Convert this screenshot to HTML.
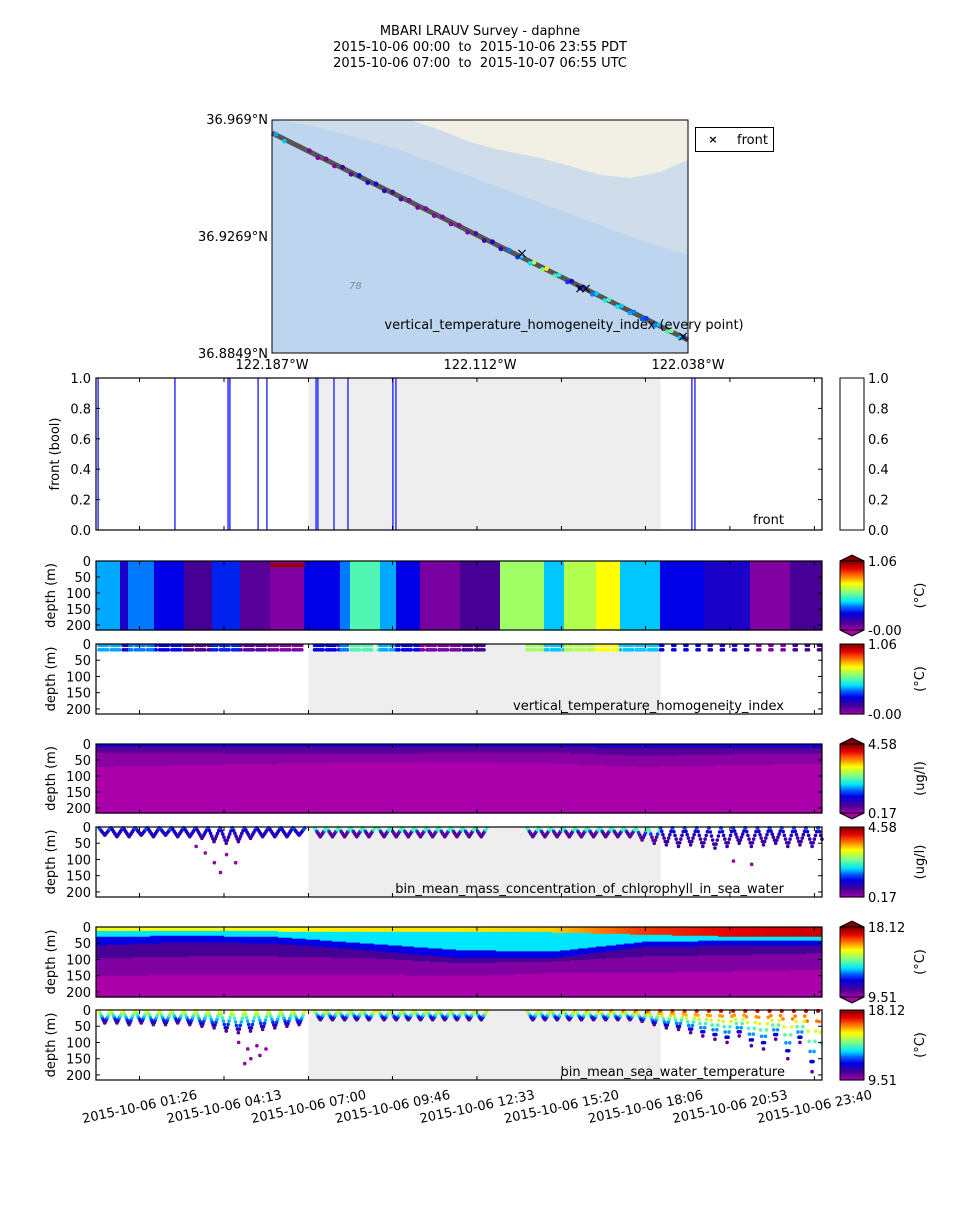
<!DOCTYPE html>
<html><head><meta charset="utf-8"><style>
html,body{margin:0;padding:0;background:#fff;}
svg text{font-family:"DejaVu Sans","Liberation Sans",sans-serif;font-size:13px;fill:#000;white-space:pre;}
</style></head><body>
<svg id="fig" width="960" height="1200" viewBox="0 0 960 1200" xmlns="http://www.w3.org/2000/svg" xml:space="preserve">
<rect width="960" height="1200" fill="#fff"/>
<g>
<text x="480" y="35" text-anchor="middle">MBARI LRAUV Survey - daphne</text>
<text x="480" y="51" text-anchor="middle">2015-10-06 00:00  to  2015-10-06 23:55 PDT</text>
<text x="480" y="67" text-anchor="middle">2015-10-06 07:00  to  2015-10-07 06:55 UTC</text>
</g>
<g>
<rect x="272" y="120" width="416" height="233" fill="#bdd5ef"/>
<polygon points="272,120 688,120 688,255 640,240 600,225 560,210 520,195 480,180 440,165 400,150 360,138 320,128 290,122" fill="#cfdcea"/>
<polygon points="410,120 688,120 688,160 660,172 630,178 600,175 570,166 540,158 500,150 470,142 440,130" fill="#f2efe4"/>
<line x1="272" y1="133" x2="688" y2="340" stroke="#555" stroke-width="5"/>
<text x="349" y="289" style="font-size:10px;fill:#889;font-style:italic">78</text>
<g id="mapdots"></g>
<text x="564" y="329" text-anchor="middle">vertical_temperature_homogeneity_index (every point)</text>
<rect x="272" y="120" width="416" height="233" fill="none" stroke="#000" stroke-width="1"/>
<text x="268" y="124" text-anchor="end">36.969°N</text>
<text x="268" y="241" text-anchor="end">36.9269°N</text>
<text x="268" y="358" text-anchor="end">36.8849°N</text>
<text x="272" y="369" text-anchor="middle">122.187°W</text>
<text x="480" y="369" text-anchor="middle">122.112°W</text>
<text x="688" y="369" text-anchor="middle">122.038°W</text>
<g>
<rect x="695.5" y="127.5" width="78" height="24" fill="#fff" stroke="#000"/>
<text x="713" y="143" text-anchor="middle" style="font-size:11px;font-weight:bold">×</text>
<text x="737" y="144">front</text>
</g>
</g>
<g id="panels"></g>
</svg>
<script>
// ---------- data ----------
const xTickHours=[1.4333,4.2167,7.0,9.7667,12.55,15.3333,18.1,20.8833,23.6667];
const xTickLabels=["2015-10-06 01:26","2015-10-06 04:13","2015-10-06 07:00","2015-10-06 09:46","2015-10-06 12:33","2015-10-06 15:20","2015-10-06 18:06","2015-10-06 20:53","2015-10-06 23:40"];
const frontHours=[0.07,2.6,4.35,4.41,5.34,5.63,7.25,7.31,7.84,8.3,9.78,9.88,19.63,19.73];
const homogBandStart=[0,0.79,1.05,1.94,2.93,3.82,4.74,5.73,6.88,8.04,8.37,9.36,9.85,10.67,11.99,13.31,14.79,15.45,16.44,17.26,18.58,20.06,21.54,22.86];
const homogBandValue=[0.38,0.2,0.35,0.25,0.12,0.28,0.1,0.05,0.25,0.35,0.5,0.38,0.25,0.06,0.12,0.58,0.4,0.6,0.68,0.4,0.25,0.2,0.05,0.12];
const layerNodeHours=[0,3,6,9,12,15,18,21,24];
const tempTopValue=[0.68,0.68,0.68,0.7,0.7,0.72,0.85,0.9,0.93];
const tempBound1=[12,10,12,14,15,15,22,28,30];
const tempBound2=[30,25,30,50,70,75,45,40,40];
const tempBound3=[55,45,50,70,95,95,60,55,55];
const tempBound4=[95,90,90,95,110,105,90,85,80];
const tempBound5=[150,145,145,145,150,140,140,135,130];
const tempLayerValues=[0.42,0.25,0.12,0.05,0.0];
const chlBound1=[8,8,8,8,8,8,10,10,10];
const chlBound2=[25,25,30,30,25,25,35,30,30];
const chlBound3=[70,65,60,55,55,60,70,65,60];
const chlLayerValues=[0.22,0.1,0.04,0.0];
const profileHours=[0.1,0.5,0.9,1.3,1.7,2.1,2.5,2.9,3.3,3.7,4.1,4.5,4.9,5.3,5.7,6.1,6.5,7.2,7.6,8.0,8.4,8.8,9.3,9.7,10.1,10.5,10.9,11.3,11.7,12.1,12.5,14.2,14.6,15.0,15.4,15.8,16.2,16.6,17.0,17.4,17.8,18.2,18.6,19.0,19.4,19.8,20.2,20.6,21.0,21.4,21.8,22.2,22.6,23.0,23.4,23.8];
const tempProfileMaxDepth=[40,40,45,40,45,45,40,45,50,55,65,70,65,60,55,50,45,30,30,30,30,30,30,30,30,30,30,30,30,30,30,30,30,30,30,30,30,30,30,30,35,45,55,60,70,80,90,100,80,110,120,90,150,100,190,200];
const chlProfileMaxDepth=[25,30,30,25,30,25,30,30,35,45,50,45,35,30,30,30,25,30,30,30,30,30,30,30,30,30,30,30,30,30,30,30,30,30,30,30,30,30,30,30,40,50,55,60,55,60,65,60,50,60,55,50,60,55,60,60];
const tempOutliers=[[5.0,120],[5.1,150],[5.3,110],[5.4,140],[4.9,165],[5.6,120],[4.7,100]];
const chlOutliers=[[3.3,60],[3.6,80],[3.9,110],[4.1,140],[4.3,85],[4.6,110],[21.0,105],[21.6,115]];
const mapDotFrac=[0.01,0.03,0.09,0.11,0.13,0.15,0.17,0.19,0.21,0.23,0.25,0.27,0.29,0.31,0.33,0.35,0.37,0.39,0.41,0.43,0.45,0.47,0.49,0.51,0.53,0.55,0.57,0.59,0.6,0.62,0.63,0.65,0.66,0.68,0.69,0.71,0.72,0.74,0.75,0.77,0.78,0.8,0.81,0.83,0.84,0.86,0.87,0.89,0.9,0.92,0.93,0.95,0.96,0.98,0.99];
const mapDotValue=[0.38,0.4,0.05,0.06,0.05,0.04,0.12,0.1,0.25,0.22,0.2,0.18,0.12,0.1,0.05,0.06,0.05,0.04,0.05,0.05,0.04,0.05,0.1,0.12,0.2,0.18,0.35,0.3,0.4,0.42,0.6,0.55,0.7,0.5,0.45,0.3,0.2,0.22,0.3,0.35,0.4,0.45,0.5,0.42,0.4,0.38,0.35,0.33,0.3,0.36,0.4,0.5,0.55,0.4,0.3];
const mapFronts=[[522,253],[580,288],[586,288],[683,336]];

// ---------- helpers ----------
const NS="http://www.w3.org/2000/svg";
const panels=document.getElementById('panels');
function mk(tag,attrs,parent){const e=document.createElementNS(NS,tag);for(const k in attrs)e.setAttribute(k,attrs[k]);(parent||panels).appendChild(e);return e;}
const X0=96,X1=822,HMAX=23.9167;
function xs(h){return X0+h*(X1-X0)/HMAX;}
const DMAX=215.6;
function cmap(v){
 const st=[[0,[170,0,170]],[0.12,[70,0,150]],[0.25,[0,0,230]],[0.33,[0,90,255]],[0.42,[0,230,255]],[0.55,[130,255,130]],[0.68,[255,255,0]],[0.8,[255,110,0]],[0.9,[230,0,0]],[1,[128,0,0]]];
 v=Math.max(0,Math.min(1,v));
 for(let i=1;i<st.length;i++){if(v<=st[i][0]){const a=st[i-1],b=st[i],t=(v-a[0])/(b[0]-a[0]);return 'rgb('+a[1].map((c,j)=>Math.round(c+(b[1][j]-c)*t)).join(',')+')';}}
 return 'rgb(128,0,0)';
}
function interp(arr,h){for(let i=1;i<layerNodeHours.length;i++){if(h<=layerNodeHours[i]){const t=(h-layerNodeHours[i-1])/(layerNodeHours[i]-layerNodeHours[i-1]);return arr[i-1]+(arr[i]-arr[i-1])*t;}}return arr[arr.length-1];}
function tempAt(h,d){const b=[interp(tempBound1,h),interp(tempBound2,h),interp(tempBound3,h),interp(tempBound4,h),interp(tempBound5,h)];if(d<b[0])return interp(tempTopValue,h);for(let i=1;i<b.length;i++)if(d<b[i])return tempLayerValues[i-1];return tempLayerValues[4];}
function chlAt(h,d){const b=[interp(chlBound1,h),interp(chlBound2,h),interp(chlBound3,h)];for(let i=0;i<3;i++)if(d<b[i])return chlLayerValues[i];return chlLayerValues[3];}
function homogAt(h){let v=homogBandValue[0];for(let i=0;i<homogBandStart.length;i++)if(h>=homogBandStart[i])v=homogBandValue[i];return v;}

// map dots
const md=document.getElementById('mapdots');
mapDotFrac.forEach((f,i)=>{const c=mk('circle',{cx:272+f*416,cy:133+f*207+(i%2?2:-1),r:2.3,fill:cmap(mapDotValue[i])},md);

});
mapFronts.forEach(p=>{const t=mk('text',{x:p[0],y:p[1]+5,'text-anchor':'middle',style:'font-size:14px'},md);t.textContent='×';

});

function xticks(top,bot){xTickHours.forEach(h=>{const x=xs(h);mk('line',{x1:x,x2:x,y1:bot,y2:bot-4,stroke:'#000'});mk('line',{x1:x,x2:x,y1:top,y2:top+4,stroke:'#000'});});}
function frame(top,bot,name){const r=mk('rect',{x:X0,y:top,width:X1-X0,height:bot-top,fill:'none',stroke:'#000','stroke-width':1.2});

}
function depthAxis(top,bot){const k=(bot-top)/DMAX;[0,50,100,150,200].forEach(d=>{const y=top+d*k;mk('line',{x1:X0,x2:X0+4,y1:y,y2:y,stroke:'#000'});mk('line',{x1:X1,x2:X1-4,y1:y,y2:y,stroke:'#000'});const t=mk('text',{x:91,y:y+5,'text-anchor':'end'});t.textContent=d;});
 const lab=mk('text',{x:0,y:0,'text-anchor':'middle',transform:'translate(55,'+((top+bot)/2)+') rotate(-90)'});lab.textContent='depth (m)';
 
 }
function shade(top,bot){mk('rect',{x:xs(7.0),y:top,width:xs(18.6)-xs(7.0),height:bot-top,fill:'#eeeeee'});}
function colorbar(top,bot,lo,hi,unit,ext,name){
 const g=mk('g',{});
 const n=60;for(let i=0;i<n;i++){mk('rect',{x:840,y:bot-(i+1)*(bot-top)/n,width:24,height:(bot-top)/n+0.6,fill:cmap((i+0.5)/n)},g);}
 if(ext){mk('polygon',{points:`840,${top} 852,${top-6} 864,${top}`,fill:cmap(1),stroke:'#000'},g);mk('polygon',{points:`840,${bot} 852,${bot+6} 864,${bot}`,fill:cmap(0),stroke:'#000'},g);}
 mk('rect',{x:840,y:top,width:24,height:bot-top,fill:'none',stroke:'#000'},g);
 let t=mk('text',{x:868,y:top+5},g);t.textContent=hi;t=mk('text',{x:868,y:bot+5},g);t.textContent=lo;
 t=mk('text',{x:0,y:0,'text-anchor':'middle',transform:'translate(924,'+((top+bot)/2)+') rotate(-90)'},g);t.textContent=unit;}

// ---------- front panel ----------
(function(){const top=378,bot=530;shade(top,bot);
 frontHours.forEach(h=>{const l=mk('line',{x1:xs(h),x2:xs(h),y1:top,y2:bot,stroke:'#3333ff','stroke-width':1.5});
 
 });
 frame(top,bot,'front-panel');xticks(top,bot);
 [0,0.2,0.4,0.6,0.8,1.0].forEach(v=>{const y=bot-v*(bot-top);mk('line',{x1:X0,x2:X0+4,y1:y,y2:y,stroke:'#000'});mk('line',{x1:X1,x2:X1-4,y1:y,y2:y,stroke:'#000'});let t=mk('text',{x:91,y:y+5,'text-anchor':'end'});t.textContent=v.toFixed(1);
 mk('line',{x1:864,x2:860,y1:y,y2:y,stroke:'#000'});t=mk('text',{x:868,y:y+5});t.textContent=v.toFixed(1);});
 mk('rect',{x:840,y:top,width:24,height:bot-top,fill:'#fff',stroke:'#000'});
 const lab=mk('text',{x:0,y:0,'text-anchor':'middle',transform:'translate(59,'+((top+bot)/2)+') rotate(-90)'});lab.textContent='front (bool)';
 const t=mk('text',{x:753,y:524});t.textContent='front';})();

// ---------- contour panels ----------
function contour(top,bot,fn,name){const k=(bot-top)/DMAX;const g=mk('g',{});
 for(let x=X0;x<X1;x+=2){const h=(x+1-X0)*HMAX/(X1-X0);let d0=0,v0=fn(h,0);for(let d=3;d<=DMAX+3;d+=3){const v=d<=DMAX?fn(h,d):-1;if(v!==v0){mk('rect',{x:x,y:top+d0*k,width:2.3,height:(d-d0)*k+0.5,fill:cmap(v0)},g);d0=d;v0=v;}}}}
function dot(h,y,v,name){if(h>HMAX)return;const c=mk('circle',{cx:xs(h),cy:y,r:1.8,fill:cmap(v)});
 
 }
// yo-yo (down then up) sample positions for a profile
function yoyo(n){const out=[];for(let j=0;j<=2*n;j++){out.push([j/(2*n),j<=n?j/n:2-j/n]);}return out;}
// homogeneity contour
(function(){const top=561,bot=630;contour(top,bot,(h,d)=>homogAt(h),'homogeneity-contour');
 mk('rect',{x:xs(5.73),y:top+2,width:xs(6.88)-xs(5.73),height:4,fill:cmap(0.98)});
 frame(top,bot,'homogeneity-contour-panel');xticks(top,bot);depthAxis(top,bot);colorbar(top,bot,'-0.00','1.06','(°C)',true,'homogeneity-colorbar');})();
// homogeneity scatter
(function(){const top=644,bot=714,k=(bot-top)/DMAX;shade(top,bot);
 profileHours.forEach(h=>{const dense=h<18.6;for(let j=0;j<(dense?5:2);j++){const hh=h+j*0.07;[4,18].forEach(d=>dot(hh,top+d*k,homogAt(hh),'homogeneity-point'));}});
 frame(top,bot,'homogeneity-scatter-panel');xticks(top,bot);depthAxis(top,bot);colorbar(top,bot,'-0.00','1.06','(°C)',false,'homogeneity-scatter-colorbar');
 const t=mk('text',{x:784,y:710,'text-anchor':'end'});t.textContent='vertical_temperature_homogeneity_index';})();
// chl contour
(function(){const top=744,bot=813;contour(top,bot,chlAt,'chlorophyll-contour');
 frame(top,bot,'chlorophyll-contour-panel');xticks(top,bot);depthAxis(top,bot);colorbar(top,bot,'0.17','4.58','(ug/l)',true,'chlorophyll-colorbar');})();
// chl scatter
(function(){const top=827,bot=897,k=(bot-top)/DMAX;shade(top,bot);
 profileHours.forEach((h,i)=>{const mdp=chlProfileMaxDepth[i];yoyo(5).forEach(p=>{const f=p[1];const d=3+(mdp-3)*f;const hh=h+0.38*p[0];const day=h>7&&h<18.6;const v=day?(f<0.3?0.5:(f<0.6?0.3:0.1)):chlAt(hh,d)+0.1;dot(hh,top+d*k,v,'chlorophyll-point');});});
 chlOutliers.forEach(p=>dot(p[0],top+p[1]*k,0.02,'chlorophyll-point'));
 frame(top,bot,'chlorophyll-scatter-panel');xticks(top,bot);depthAxis(top,bot);colorbar(top,bot,'0.17','4.58','(ug/l)',false,'chlorophyll-scatter-colorbar');
 const t=mk('text',{x:784,y:893,'text-anchor':'end'});t.textContent='bin_mean_mass_concentration_of_chlorophyll_in_sea_water';})();
// temp contour
(function(){const top=927,bot=997;contour(top,bot,tempAt,'temperature-contour');
 frame(top,bot,'temperature-contour-panel');xticks(top,bot);depthAxis(top,bot);colorbar(top,bot,'9.51','18.12','(°C)',true,'temperature-colorbar');})();
// temp scatter
(function(){const top=1010,bot=1080,k=(bot-top)/DMAX;shade(top,bot);
 profileHours.forEach((h,i)=>{const mdp=tempProfileMaxDepth[i];yoyo(6).forEach(p=>{const f=p[1];const d=3+(mdp-3)*f;const hh=h+0.38*p[0];const v=interp(tempTopValue,hh)*(1-f)+0.1*f;dot(hh,top+d*k,v,'temperature-point');});});
 tempOutliers.forEach(p=>dot(p[0],top+p[1]*k,0.03,'temperature-point'));
 frame(top,bot,'temperature-scatter-panel');xticks(top,bot);depthAxis(top,bot);colorbar(top,bot,'9.51','18.12','(°C)',false,'temperature-scatter-colorbar');
 let t=mk('text',{x:785,y:1076,'text-anchor':'end'});t.textContent='bin_mean_sea_water_temperature';
 xTickHours.forEach((h,i)=>{const x=xs(h);t=mk('text',{x:x,y:1111,'text-anchor':'middle',transform:'rotate(-12 '+x+' 1106)'});t.textContent=xTickLabels[i];
 
 });})();
</script>
</body></html>
